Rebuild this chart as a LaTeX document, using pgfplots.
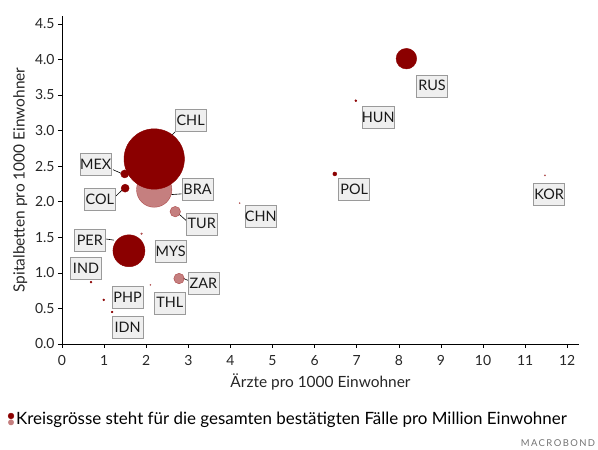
\documentclass[border=0pt]{standalone}
\usepackage{pgfplots}
\pgfplotsset{compat=1.18}
\usepackage{pgfplotstable}
\usepackage{fontspec}
\setmainfont{Lato}
\definecolor{dred}{HTML}{8B0000}
\definecolor{lred}{HTML}{C57F7F}
\definecolor{boxfill}{HTML}{EFEFEF}
\definecolor{boxdraw}{HTML}{9A9A9A}
\tikzset{lab/.style={draw=boxdraw, fill=boxfill, text=black!90, inner sep=0pt,
    minimum width=31bp, minimum height=22bp, font=\fontsize{14.5}{15}\selectfont}}

\pgfplotstableread{
x y r
2.19 2.17 17.7
2.69 1.86 5.3
2.78 0.92 5.3
1.89 1.55 0.9
2.10 0.83 0.6
4.22 1.98 0.6
11.47 2.37 0.7
}\lighttab

\pgfplotstableread{
x y r
2.19 2.60 30.2
1.59 1.31 16.0
8.18 4.01 10.3
1.49 2.39 4.0
1.50 2.19 4.0
6.48 2.39 2.0
6.98 3.42 1.0
0.69 0.87 1.0
0.99 0.62 1.0
1.19 0.45 0.9
}\darktab

\begin{document}
\begin{tikzpicture}[x=1bp,y=1bp]
\useasboundingbox (-62,-106) rectangle (536,344);
\begin{axis}[
  at={(0,0)}, anchor=south west,
  scale only axis, width=517bp, height=328bp,
  xmin=0, xmax=12.28, ymin=0, ymax=4.61,
  enlargelimits=false, clip=false,
  axis x line*=bottom, axis y line*=left,
  axis line style={-, black, line width=0.8pt},
  tick align=outside, major tick length=4bp,
  tick style={black, line width=0.6pt},
  xtick={0,1,...,12}, ytick={0,0.5,...,4.5},
  yticklabel style={/pgf/number format/.cd, fixed, fixed zerofill, precision=1},
  /pgf/number format/assume math mode=true,
  ticklabel style={font=\fontsize{14}{16}\selectfont, text=black!85},
  xticklabel style={yshift=-4bp},
  xlabel={Ärzte pro 1000 Einwohner},
  ylabel={Spitalbetten pro 1000 Einwohner},
  label style={font=\fontsize{15.5}{17}\selectfont, text=black!85},
  xlabel style={yshift=-1bp},
  ylabel style={yshift=1bp},
  legend style={at={(-0.105,-0.228)}, anchor=west, draw=none, fill=none,
    font=\fontsize{17}{19}\selectfont, inner sep=0pt},
  legend cell align=left,
]
\addlegendimage{legend image code/.code={
  \fill[dred] (0.1cm,2.8bp) circle (2.9bp);
  \fill[lred] (0.1cm,-3.6bp) circle (2.7bp);}}
\addlegendentry{Kreisgrösse steht für die gesamten bestätigten Fälle pro Million Einwohner}

\addplot[scatter, only marks, mark=*,
  point meta=explicit,
  visualization depends on={\thisrow{r}\as\rr},
  scatter/use mapped color={draw=dred, fill=dred, fill opacity=0.5, draw opacity=0.55},
  scatter/@pre marker code/.append style={/tikz/mark size=\rr bp, /tikz/line width=0.5pt},
  forget plot] table[x=x,y=y,meta=r] {\lighttab};

\addplot[scatter, only marks, mark=*,
  point meta=explicit,
  visualization depends on={\thisrow{r}\as\rr},
  scatter/use mapped color={draw=dred, fill=dred},
  scatter/@pre marker code/.append style={/tikz/mark size=\rr bp, /tikz/line width=0.1pt},
  forget plot] table[x=x,y=y,meta=r] {\darktab};

% leader lines
\draw[black, line width=0.6pt] (axis cs:2.72,3.00) -- (axis cs:2.60,2.93);
\draw[black, line width=0.6pt] (axis cs:1.21,2.45) -- (axis cs:1.44,2.39);
\draw[black, line width=0.6pt] (axis cs:1.28,2.08) -- (axis cs:1.44,2.17);
\draw[black, line width=0.6pt] (axis cs:2.84,2.11) -- (axis cs:2.60,2.10);
\draw[black, line width=0.6pt] (axis cs:2.96,1.73) -- (axis cs:2.79,1.82);
\draw[black, line width=0.6pt] (axis cs:0.99,1.48) -- (axis cs:1.23,1.46);
\draw[black, line width=0.6pt] (axis cs:3.01,0.89) -- (axis cs:2.89,0.92);

% labels
\node[lab] at (axis cs:3.055,3.15) {CHL};
\node[lab] at (axis cs:0.80,2.52) {MEX};
\node[lab] at (axis cs:0.90,2.03) {COL};
\node[lab] at (axis cs:3.22,2.17) {BRA};
\node[lab] at (axis cs:3.32,1.69) {TUR};
\node[lab] at (axis cs:4.72,1.79) {CHN};
\node[lab] at (axis cs:0.66,1.46) {PER};
\node[lab] at (axis cs:2.58,1.30) {MYS};
\node[lab] at (axis cs:0.57,1.06) {IND};
\node[lab] at (axis cs:3.36,0.85) {ZAR};
\node[lab] at (axis cs:1.56,0.66) {PHP};
\node[lab] at (axis cs:2.56,0.58) {THL};
\node[lab] at (axis cs:1.56,0.24) {IDN};
\node[lab] at (axis cs:8.79,3.63) {RUS};
\node[lab] at (axis cs:7.51,3.19) {HUN};
\node[lab] at (axis cs:6.94,2.17) {POL};
\node[lab] at (axis cs:11.57,2.11) {KOR};
\end{axis}
\node[font=\fontsize{9.5}{10}\selectfont\addfontfeature{LetterSpace=15}, text=black!55] at (496,-99) {MACROBOND};
\end{tikzpicture}
\end{document}
